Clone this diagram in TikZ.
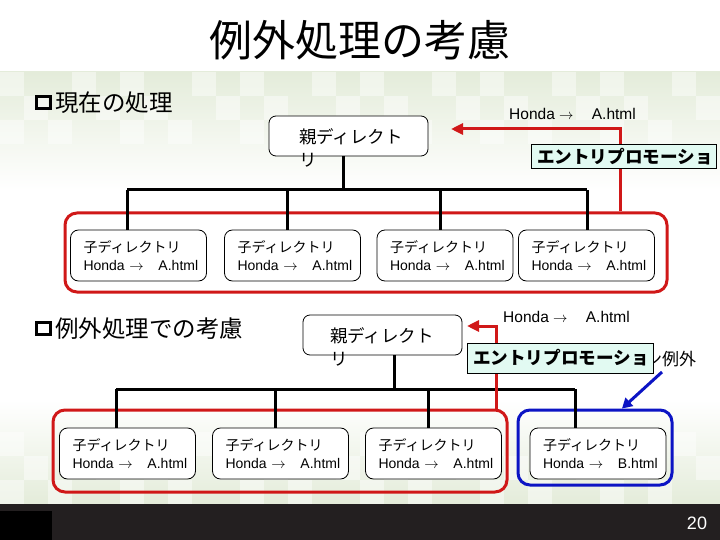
\documentclass[tikz,border=0pt]{standalone}
\usepackage{fontspec}
\setmainfont{Liberation Sans}
\newfontfamily\jp{Noto Sans CJK JP}
\usetikzlibrary{arrows.meta,calc}
\definecolor{grpred}{RGB}{208,24,24}
\definecolor{grpblue}{RGB}{12,20,196}
\definecolor{mint}{RGB}{226,250,242}
\definecolor{bandgreen}{RGB}{228,236,218}
\definecolor{barblack}{RGB}{35,31,32}
\tikzset{
	tree/.style={line width=3pt},
	childbox/.style={draw, line width=0.8pt, rounded corners=8pt, fill=white, minimum height=51pt, text width=110pt, inner xsep=13pt, align=left, font=\fontsize{14}{18}\selectfont},
	parentbox/.style={draw, line width=0.8pt, rounded corners=7pt, fill=white, minimum width=159pt, minimum height=40pt},
	grpbox/.style={draw, line width=3pt, rounded corners=12pt},
	promo/.style={grpred, line width=3pt, -{Triangle[length=12pt,width=11pt]}},
	except/.style={grpblue, line width=3pt, -{Triangle[length=10pt,width=11pt]}},
	labelbox/.style={draw, line width=0.8pt, fill=mint, align=left, inner xsep=6pt, font=\jp\bfseries\fontsize{17.6}{20}\selectfont},
	bulletbox/.style={draw, line width=3.5pt, minimum width=14pt, minimum height=12pt, inner sep=0pt},
	heading/.style={anchor=west, inner sep=0pt, font=\jp\fontsize{23.5}{26}\selectfont},
	linktext/.style={anchor=west, inner sep=0pt, font=\fontsize{15.5}{18}\selectfont}
}
% child box, its tap on the bus: name, x, y, file, tap offset, bus
\newcommand{\childbox}[6]{
	\node[childbox] (#1) at (#2,#3) {{\jp 子ディレクトリ}\\\mbox{Honda $\rightarrow$ \hspace{10pt}#4}};
	\coordinate (#1tap) at ($(#1.north)+(#5,0)$);
	\draw[tree] (#1tap) -- (#1tap |- #6);
}

\begin{document}
\begin{tikzpicture}[x=1pt,y=-1pt]
	\useasboundingbox (0,0) rectangle (720,540);
	% background
	\fill[white] (0,0) rectangle (720,540);
	\shade[top color=bandgreen, bottom color=white] (0,72) rectangle (720,190);
	\shade[top color=white, bottom color=bandgreen] (0,400) rectangle (720,504);
	\foreach \i in {0,...,29}
		\foreach \j in {0,1,2}{
			\pgfmathtruncatemacro{\lit}{mod(\i*7+\j*3,5)}
			\ifnum\lit<2
				\fill[white, opacity=0.45] (\i*24,72+\j*24) rectangle ++(24,24);
				\fill[white, opacity=0.45] (\i*24,432+\j*24) rectangle ++(24,24);
			\fi
		}
	\fill[barblack] (0,504) rectangle (720,540);
	\fill[black] (0,511) rectangle (52,540);
	\node[white, font=\fontsize{18}{20}\selectfont] (page) at (697,523) {20};

	\node[font=\jp\fontsize{43}{46}\selectfont] (title) at (360,40) {例外処理の考慮};

	% current handling
	\node[bulletbox] (bulA) at (43.5,102.5) {};
	\node[heading] (headA) at (55,103) {現在の処理};

	\node[grpbox, draw=grpred, minimum width=602pt, minimum height=79pt] (grpA) at (366,252.5) {};

	\node[parentbox] (pA) at (348.5,136) {};
	\node[anchor=north west, inner sep=0pt, align=left, font=\jp\fontsize{17.5}{23}\selectfont] (pAtext) at (299,128) {親ディレクト\\リ};
	\coordinate (busA) at (343,190);
	\draw[tree] ($(pA.south)+(-5.5,0)$) -- (busA);

	\childbox{c1a}{138.5}{255.5}{A.html}{-11.5}{busA}
	\childbox{c2a}{292.5}{255.5}{A.html}{-5.5}{busA}
	\childbox{c3a}{445}{255.5}{A.html}{-5}{busA}
	\childbox{c4a}{586.5}{255.5}{A.html}{0.5}{busA}
	\draw[tree] (c1atap |- busA) -- (c4atap |- busA);

	\coordinate (upA) at ($(grpA.north)+(254,0)$);
	\coordinate (tipA) at (451,129);
	\draw[promo] (upA) |- (tipA);
	\node[linktext] (hA) at (509,114) {Honda $\rightarrow$ \hspace{14pt}A.html};
	\node[labelbox, minimum height=21pt, text width=173pt] (promoA) at (623.5,156.5) {エントリプロモーショ};

	% exception handling
	\node[bulletbox] (bulB) at (43.5,328.5) {};
	\node[heading] (headB) at (55,329) {例外処理での考慮};

	\node[grpbox, draw=grpred, minimum width=454pt, minimum height=82pt] (grpB) at (280,451) {};
	\node[grpbox, draw=grpblue, minimum width=154pt, minimum height=75pt] (grpC) at (595,447.5) {};

	\node[parentbox] (pB) at (382.5,335) {};
	\node[anchor=north west, inner sep=0pt, align=left, font=\jp\fontsize{17.5}{23}\selectfont] (pBtext) at (330,327) {親ディレクト\\リ};
	\coordinate (busB) at (394,389);
	\draw[tree] ($(pB.south)+(11.5,0)$) -- (busB);

	\childbox{c1b}{127.5}{453.5}{A.html}{-11.5}{busB}
	\childbox{c2b}{280.5}{453.5}{A.html}{-5.5}{busB}
	\childbox{c3b}{433.5}{453.5}{A.html}{-5.5}{busB}
	\childbox{c4b}{598}{453.5}{B.html}{-23}{busB}
	\draw[tree] (c1btap |- busB) -- (c4btap |- busB);

	\coordinate (upB) at ($(grpB.north)+(216,0)$);
	\coordinate (tipB) at (467,326);
	\draw[promo] (upB) |- (tipB);
	\node[linktext] (hB) at (503,317) {Honda $\rightarrow$ \hspace{14pt}A.html};
	\node[anchor=west, inner sep=0pt, font=\jp\fontsize{17}{20}\selectfont] (exc) at (645,359) {ン例外};
	\node[labelbox, minimum height=30pt, text width=174pt] (promoB) at (560,358) {エントリプロモーショ};
	\coordinate (excfoot) at (662,372);
	\coordinate (tipC) at ($(grpC.north)+(27,0)$);
	\draw[except] (excfoot) -- (tipC);
\end{tikzpicture}
\end{document}
